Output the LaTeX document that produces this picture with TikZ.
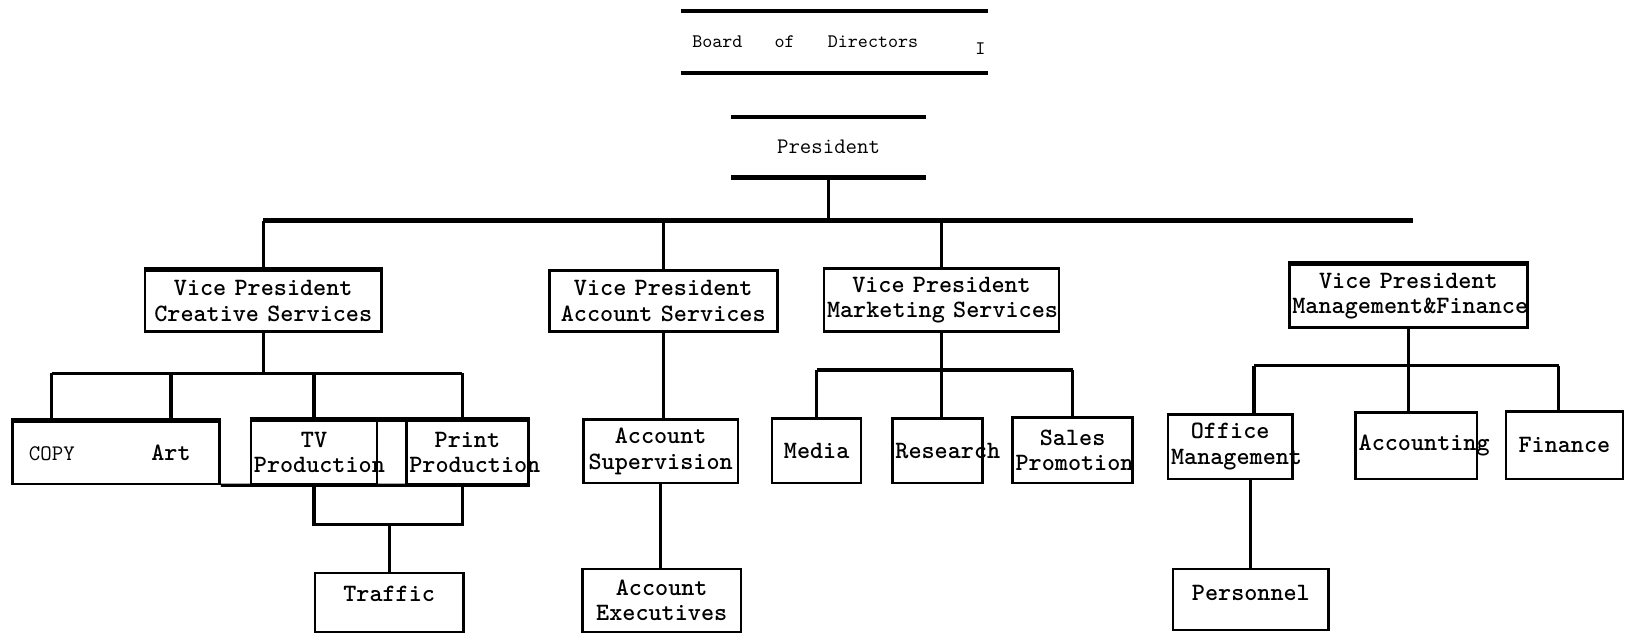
\documentclass[tikz,border=0pt]{standalone}
\usepackage{fontspec}
\newcommand\chartfont{\fontsize{13.7}{13.9}\selectfont\ttfamily\bfseries\spaceskip=0.525em\relax\frenchspacing}
\newcommand\lightfont{\fontsize{12.2}{13}\selectfont\ttfamily}
\newcommand\boardfont{\fontsize{10.5}{11}\selectfont\ttfamily}
\tikzset{
  unit/.style={draw,line width=1.4pt,inner xsep=0.06cm,inner ysep=0pt,align=center,font=\chartfont},
  boldtext/.style={inner sep=0pt,font=\chartfont},
  lighttext/.style={inner sep=0pt,font=\lightfont},
  link/.style={line width=1.7pt},
  heavy/.style={line width=2.4pt},
  busline/.style={line width=2.8pt}
}
\hfuzz=100pt
\begin{document}
\begin{tikzpicture}[x=0.02cm,y=-0.02cm]
  \useasboundingbox (0,0) rectangle (1568,614);

  % top of the chart
  \node[inner sep=0pt,font=\boardfont,minimum width=5.92cm,minimum height=1.18cm,text width=5.48cm,align=left] (board) at (805,40.5) {Board\hspace{0.62cm}of\hspace{0.64cm}Directors};
  \node[inner sep=0pt,font=\boardfont] (tick) at (946,47) {I};
  \draw[heavy] (board.north west) -- (board.north east);
  \draw[heavy] (board.south west) -- (board.south east);
  \node[lighttext,minimum width=3.74cm,minimum height=1.16cm] (pres) at (799.5,142) {President};
  \draw[heavy] (pres.north west) -- (pres.north east);
  \draw[heavy] (pres.south west) -- (pres.south east);

  % vice presidents
  \node[unit,text width=4.44cm,minimum height=1.18cm] (vpc) at (254,290.5) {Vice~President\\Creative~Services};
  \node[unit,text width=4.28cm,minimum height=1.18cm] (vpa) at (640,290.5) {Vice~President\\Account~Services};
  \node[unit,text width=4.42cm,minimum height=1.22cm] (vpm) at (908.5,289.5) {Vice~President\\Marketing~Services};
  \node[unit,text width=4.48cm,minimum height=1.22cm] (vpf) at (1359,285.5) {Vice~President\\Management\&Finance};

  % departments
  \node[unit,minimum width=4.00cm,minimum height=1.20cm] (copyart) at (112,437) {};
  \node[lighttext] (copy) at (50,438) {COPY};
  \node[boldtext] (art) at (165,437) {Art};
  \node[unit,text width=2.32cm,minimum height=1.22cm] (tv) at (303,436.5) {TV\\Production};
  \node[unit,text width=2.24cm,minimum height=1.22cm] (print) at (451,436.5) {Print\\Production};
  \node[unit,text width=2.74cm,minimum height=1.14cm,text depth=0.34cm] (traffic) at (375.5,581.5) {Traffic};
  \node[unit,text width=2.86cm,minimum height=1.22cm] (accsup) at (637.5,435.5) {Account\\Supervision};
  \node[unit,text width=2.94cm,minimum height=1.22cm] (accexe) at (638.5,579.5) {Account\\Executives};
  \node[unit,text width=1.60cm,minimum height=1.24cm] (media) at (788,435) {Media};
  \node[unit,text width=1.62cm,minimum height=1.24cm] (research) at (904.5,435) {Research};
  \node[unit,text width=2.20cm,minimum height=1.26cm] (sales) at (1035,434.5) {Sales\\Promotion};
  \node[unit,text width=2.28cm,minimum height=1.24cm] (office) at (1187,431) {Office\\Management};
  \node[unit,text width=2.22cm,minimum height=1.28cm] (accounting) at (1366.5,430) {Accounting};
  \node[unit,text width=2.14cm,minimum height=1.30cm] (finance) at (1509.5,429.5) {Finance};
  \node[unit,text width=2.88cm,minimum height=1.18cm,text depth=0.26cm] (personnel) at (1207,578.5) {Personnel};

  \foreach \n in {vpc,vpf,copyart}
    \draw[heavy] (\n.north west) -- (\n.north east);
  \draw[heavy] (tv.north west) -- (print.north east);
  \draw[link] (copyart.south east) -- (print.south east);

  % bus lines
  \coordinate (mainbus) at (0,213);
  \coordinate (busend) at (1363,213);
  \coordinate (cbus) at (0,360);
  \coordinate (tbus) at (0,506);
  \coordinate (mbus) at (0,357);
  \coordinate (fbus) at (0,353);

  \draw[link] (pres.south) -- (pres.south |- mainbus);
  \draw[busline] (vpc.north |- mainbus) -- (busend);
  \foreach \n in {vpc,vpa,vpm}
    \draw[link] (\n.north |- mainbus) -- (\n.north);

  \draw[link] (vpc.south) -- (vpc.south |- cbus);
  \draw[link] (copy.north |- cbus) -- ([xshift=-0.1cm]print.north |- cbus);
  \draw[link] (copy.north |- cbus) -- (copy.north |- copyart.north);
  \draw[link] (art.north |- cbus) -- (art.north |- copyart.north);
  \draw[link] (tv.north |- cbus) -- (tv.north);
  \draw[link] ([xshift=-0.1cm]print.north |- cbus) -- ([xshift=-0.1cm]print.north);
  \draw[link] (tv.south) -- (tv.south |- tbus) -- ([xshift=-0.1cm]print.south |- tbus) -- ([xshift=-0.1cm]print.south);
  \draw[link] (traffic.north |- tbus) -- (traffic.north);

  \draw[link] (vpa.south) -- (vpa.south |- accsup.north);
  \draw[link] (accsup.south) -- (accsup.south |- accexe.north);

  \draw[link] (vpm.south) -- (vpm.south |- research.north);
  \draw[link] (media.north |- mbus) -- (sales.north |- mbus);
  \draw[link] (media.north |- mbus) -- (media.north);
  \draw[link] (sales.north |- mbus) -- (sales.north);

  \draw[link] (vpf.south) -- (vpf.south |- accounting.north);
  \draw[link] ([xshift=0.46cm]office.north |- fbus) -- ([xshift=-0.11cm]finance.north |- fbus);
  \draw[link] ([xshift=0.46cm]office.north |- fbus) -- ([xshift=0.46cm]office.north);
  \draw[link] ([xshift=-0.11cm]finance.north |- fbus) -- ([xshift=-0.11cm]finance.north);
  \draw[link] (personnel.north |- office.south) -- (personnel.north);
\end{tikzpicture}
\end{document}
